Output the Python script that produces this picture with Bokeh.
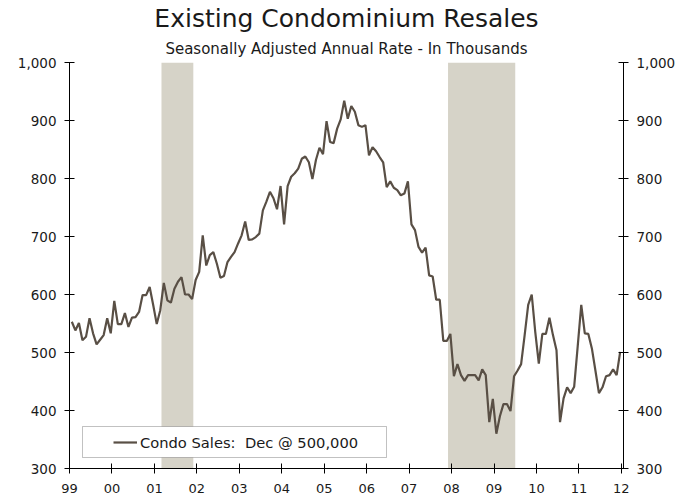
import pandas as pd
from bokeh.plotting import figure
from bokeh.models import (LinearAxis, FixedTicker, NumeralTickFormatter, Title,
                          Legend, LegendItem, BoxAnnotation, Range1d, ColumnDataSource)
from bokeh.embed import file_html
from bokeh.resources import INLINE

# Existing condominium resales, SAAR, thousands (monthly)
sales_1999 = [553, 538, 551, 521, 527, 559, 533, 514, 522, 530, 559, 533]
sales_2000 = [589, 549, 549, 568, 544, 560, 561, 570, 599, 599, 613, 582]
sales_2001 = [549, 573, 620, 590, 586, 610, 622, 630, 600, 600, 592, 625]
sales_2002 = [639, 702, 650, 668, 673, 653, 629, 632, 656, 665, 673, 688]
sales_2003 = [702, 726, 694, 695, 699, 705, 745, 760, 777, 766, 747, 787]
sales_2004 = [721, 787, 803, 809, 817, 834, 838, 828, 799, 832, 853, 842]
sales_2005 = [899, 863, 861, 886, 902, 934, 903, 925, 915, 892, 889, 892]
sales_2006 = [840, 854, 847, 837, 828, 785, 795, 784, 780, 771, 774, 795]
sales_2007 = [721, 711, 682, 672, 681, 633, 631, 591, 591, 520, 520, 532]
sales_2008 = [459, 480, 461, 451, 461, 461, 461, 452, 471, 461, 380, 420]
sales_2009 = [360, 390, 411, 411, 399, 459, 469, 480, 530, 582, 600, 535]
sales_2010 = [481, 532, 532, 560, 530, 504, 380, 421, 440, 430, 441, 511]
sales_2011 = [582, 533, 532, 507, 469, 430, 440, 459, 461, 471, 461, 501]

condo_sales = (sales_1999 + sales_2000 + sales_2001 + sales_2002 + sales_2003 +
               sales_2004 + sales_2005 + sales_2006 + sales_2007 + sales_2008 +
               sales_2009 + sales_2010 + sales_2011)

months = pd.date_range("1999-01-01", periods=len(condo_sales), freq="MS")
month_pos = [d.year + (d.month - 1 + 0.66) / 12.0 for d in months]

year_ticks = list(range(1999, 2013))
year_labels = ["99", "00", "01", "02", "03", "04", "05", "06", "07", "08", "09", "10", "11", "12"]
value_ticks = [300, 400, 500, 600, 700, 800, 900, 1000]

# Recessions (NBER): Mar 2001 - Nov 2001, Dec 2007 - Jun 2009
recession_start = [2001 + 2 / 12.0, 2007 + 11 / 12.0]
recession_end = [2001 + 11 / 12.0, 2009 + 6 / 12.0]

FONT = "DejaVu Sans"
LINE_COLOR = "#594f45"
SHADE_COLOR = "#d6d3c8"
TEXT_COLOR = "#1a1a1a"

p = figure(width=694, height=499, output_backend="svg", toolbar_location=None,
           x_range=Range1d(1999, 2012.05), y_range=Range1d(300, 1000),
           min_border_left=69, min_border_right=71, min_border_top=62,
           min_border_bottom=31)
p.outline_line_color = None
p.xgrid.visible = False
p.ygrid.visible = False
p.background_fill_color = "white"
p.border_fill_color = "white"

shade_src = ColumnDataSource(dict(left=recession_start, right=recession_end,
                                  bottom=[300] * len(recession_start),
                                  top=[1000] * len(recession_start)))
p.quad(left="left", right="right", bottom="bottom", top="top", source=shade_src,
       fill_color=SHADE_COLOR, line_color=None)

src = ColumnDataSource(dict(x=month_pos, y=condo_sales))
line_r = p.line("x", "y", source=src, line_color=LINE_COLOR, line_width=2.2)

# axes
xa = p.xaxis[0]
xa.ticker = FixedTicker(ticks=year_ticks)
xa.major_label_overrides = {t: l for t, l in zip(year_ticks, year_labels)}
xa.minor_tick_line_color = None
xa.major_tick_in = 5
xa.major_tick_out = 5
xa.major_label_standoff = 10
xa.axis_line_color = "black"
xa.major_tick_line_color = "black"
xa.major_label_text_font = FONT
xa.major_label_text_font_size = "13px"
xa.major_label_text_color = TEXT_COLOR

ya = p.yaxis[0]
ra = LinearAxis()
p.add_layout(ra, "right")
for ax in (ya, ra):
    ax.ticker = FixedTicker(ticks=value_ticks)
    ax.formatter = NumeralTickFormatter(format="0,0")
    ax.minor_tick_line_color = None
    ax.major_tick_in = 5
    ax.major_tick_out = 5
    ax.major_label_standoff = 8
    ax.axis_line_color = "black"
    ax.major_tick_line_color = "black"
    ax.major_label_text_font = FONT
    ax.major_label_text_font_size = "13.5px"
    ax.major_label_text_color = TEXT_COLOR

# titles
sub = Title(text="Seasonally Adjusted Annual Rate - In Thousands", align="center",
            text_font=FONT, text_font_size="15px", text_font_style="normal",
            text_color=TEXT_COLOR, standoff=10)
p.add_layout(sub, "above")
main = Title(text="Existing Condominium Resales", align="center",
             text_font=FONT, text_font_size="25px", text_font_style="normal",
             text_color=TEXT_COLOR, standoff=0)
p.add_layout(main, "above")

# legend box
box = BoxAnnotation(left=13, right=317, bottom=11, top=42,
                    left_units="screen", right_units="screen",
                    bottom_units="screen", top_units="screen",
                    fill_color="white", fill_alpha=1.0,
                    line_color="#333333", line_width=1)
p.add_layout(box)

legend = Legend(items=[LegendItem(label="Condo Sales:  Dec @ 500,000", renderers=[line_r])],
                location=(44, 16), padding=0, glyph_width=24, label_standoff=3,
                border_line_color=None, background_fill_alpha=0.0,
                label_text_font=FONT, label_text_font_size="14.7px",
                label_text_color=TEXT_COLOR)
p.add_layout(legend)

open("out.html", "w").write(file_html(p, INLINE))
